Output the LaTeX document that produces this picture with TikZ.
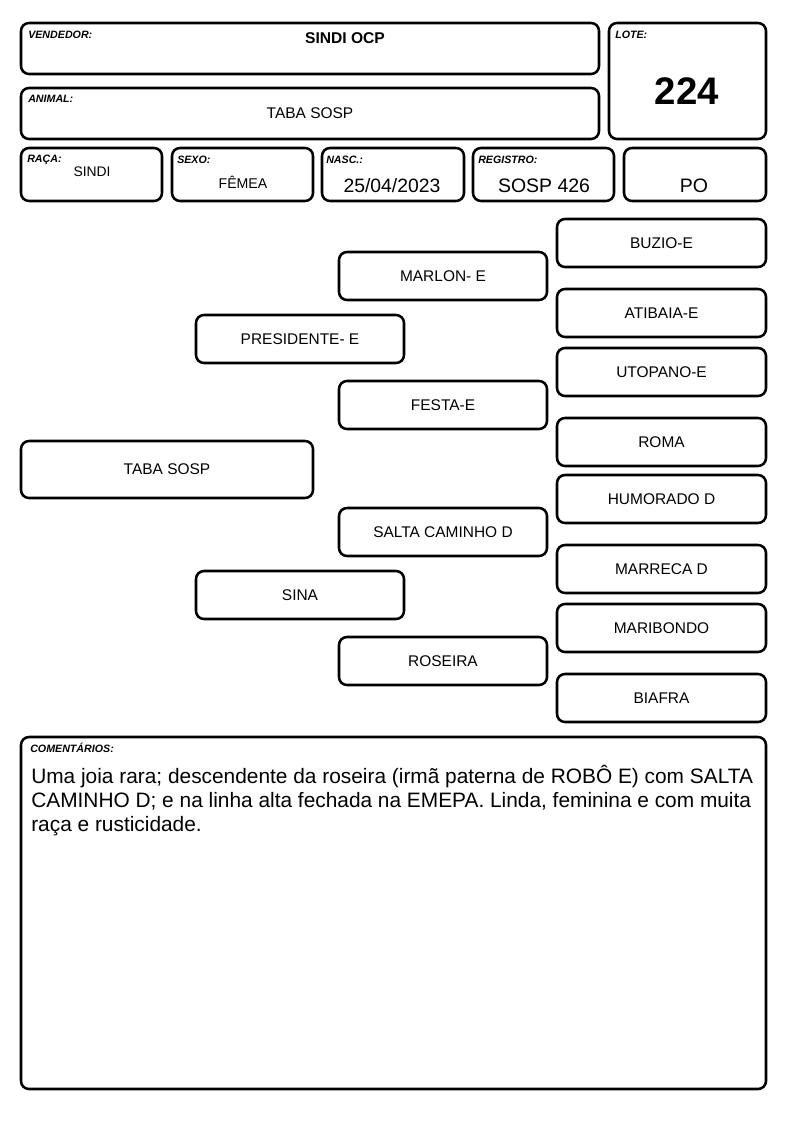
\documentclass[tikz,border=0pt]{standalone}
\usepackage{fontspec}
\setmainfont{Liberation Sans}
\begin{document}
\begin{tikzpicture}[x=0.75pt,y=-0.75pt,
  frame/.style={draw=black,line width=1.9pt,rounded corners=6pt,inner sep=0pt,outer sep=0pt},
  lbl/.style={anchor=base west,inner sep=0pt,font=\fontsize{8}{9}\selectfont\bfseries\itshape},
  val/.style={anchor=base,inner sep=0pt},
  ped/.style={frame,font=\fontsize{11.6}{14}\selectfont},
  com/.style={anchor=base west,inner sep=0pt,font=\fontsize{15.65}{18}\selectfont}]
\useasboundingbox[fill=white] (0,0) rectangle (794,1123);
\newcommand\fbx[6]{\node[#6,minimum width={(#4-#2)*0.75pt},minimum height={(#5-#3)*0.75pt}] (#1) at ({(#2+#4)/2},{(#3+#5)/2}) {};}
\newcommand\pbx[6]{\node[ped,minimum width={(#4-#2)*0.75pt},minimum height={(#5-#3)*0.75pt}] (#1) at ({(#2+#4)/2},{(#3+#5)/2}) {#6};}
% header
\fbx{vend}{21}{23}{599}{74}{frame}
\fbx{anim}{21}{88}{599}{139}{frame}
\fbx{lote}{609}{23}{766}{139}{frame}
\fbx{raca}{21}{148}{162}{201}{frame}
\fbx{sexo}{172}{148}{313}{201}{frame}
\fbx{nasc}{322}{148}{464}{201}{frame}
\fbx{regi}{473}{148}{614}{201}{frame}
\fbx{po}{624}{148}{766}{201}{frame}
\node[lbl] (lvend) at (28,39) {VENDEDOR:};
\node[lbl] (lanim) at (28,103) {ANIMAL:};
\node[lbl] (llote) at (615,39) {LOTE:};
\node[lbl] (lraca) at (27,163) {RAÇA:};
\node[lbl] (lsexo) at (177,164) {SEXO:};
\node[lbl] (lnasc) at (326,164) {NASC.:};
\node[lbl] (lregi) at (478,164) {REGISTRO:};
\node[val,font=\fontsize{11.7}{14}\selectfont\bfseries] (vvend) at (345,43.5) {SINDI OCP};
\node[val,font=\fontsize{11.6}{14}\selectfont] (vanim) at (310,118.5) {TABA SOSP};
\node[val,font=\fontsize{28.8}{32}\selectfont\bfseries] (vlote) at (687,105) {224};
\node[val,font=\fontsize{10.4}{12}\selectfont] (vraca) at (92,177) {SINDI};
\node[val,font=\fontsize{10.6}{12}\selectfont] (vsexo) at (243,189) {FÊMEA};
\node[val,font=\fontsize{14.5}{17}\selectfont] (vnasc) at (392,193) {25/04/2023};
\node[val,font=\fontsize{14.6}{17}\selectfont] (vregi) at (544,193) {SOSP 426};
\node[val,font=\fontsize{14.6}{17}\selectfont] (vpo) at (694,193) {PO};
% pedigree
\pbx{buzio}{557}{219}{766}{267}{BUZIO-E}
\pbx{marlon}{339}{252}{547}{300}{MARLON- E}
\pbx{atibaia}{557}{289}{766}{337}{ATIBAIA-E}
\pbx{pres}{196}{315}{404}{363}{PRESIDENTE- E}
\pbx{utopano}{557}{348}{766}{396}{UTOPANO-E}
\pbx{festa}{339}{381}{547}{429}{FESTA-E}
\pbx{roma}{557}{418}{766}{466}{ROMA}
\pbx{taba}{21}{441}{313}{498}{TABA SOSP}
\pbx{humor}{557}{475}{766}{523}{HUMORADO D}
\pbx{salta}{339}{508}{547}{556}{SALTA CAMINHO D}
\pbx{marreca}{557}{545}{766}{593}{MARRECA D}
\pbx{sina}{196}{571}{404}{619}{SINA}
\pbx{mari}{557}{604}{766}{652}{MARIBONDO}
\pbx{roseira}{339}{637}{547}{685}{ROSEIRA}
\pbx{biafra}{557}{674}{766}{722}{BIAFRA}
% comments
\fbx{coment}{21}{737}{766}{1089}{frame}
\node[lbl] (lcom) at (30,752) {COMENTÁRIOS:};
\node[com] (c1) at (31,783) {Uma joia rara; descendente da roseira (irmã paterna de ROBÔ E) com SALTA};
\node[com] (c2) at (31,807) {CAMINHO D; e na linha alta fechada na EMEPA. Linda, feminina e com muita};
\node[com] (c3) at (31,831) {raça e rusticidade.};
\end{tikzpicture}
\end{document}
